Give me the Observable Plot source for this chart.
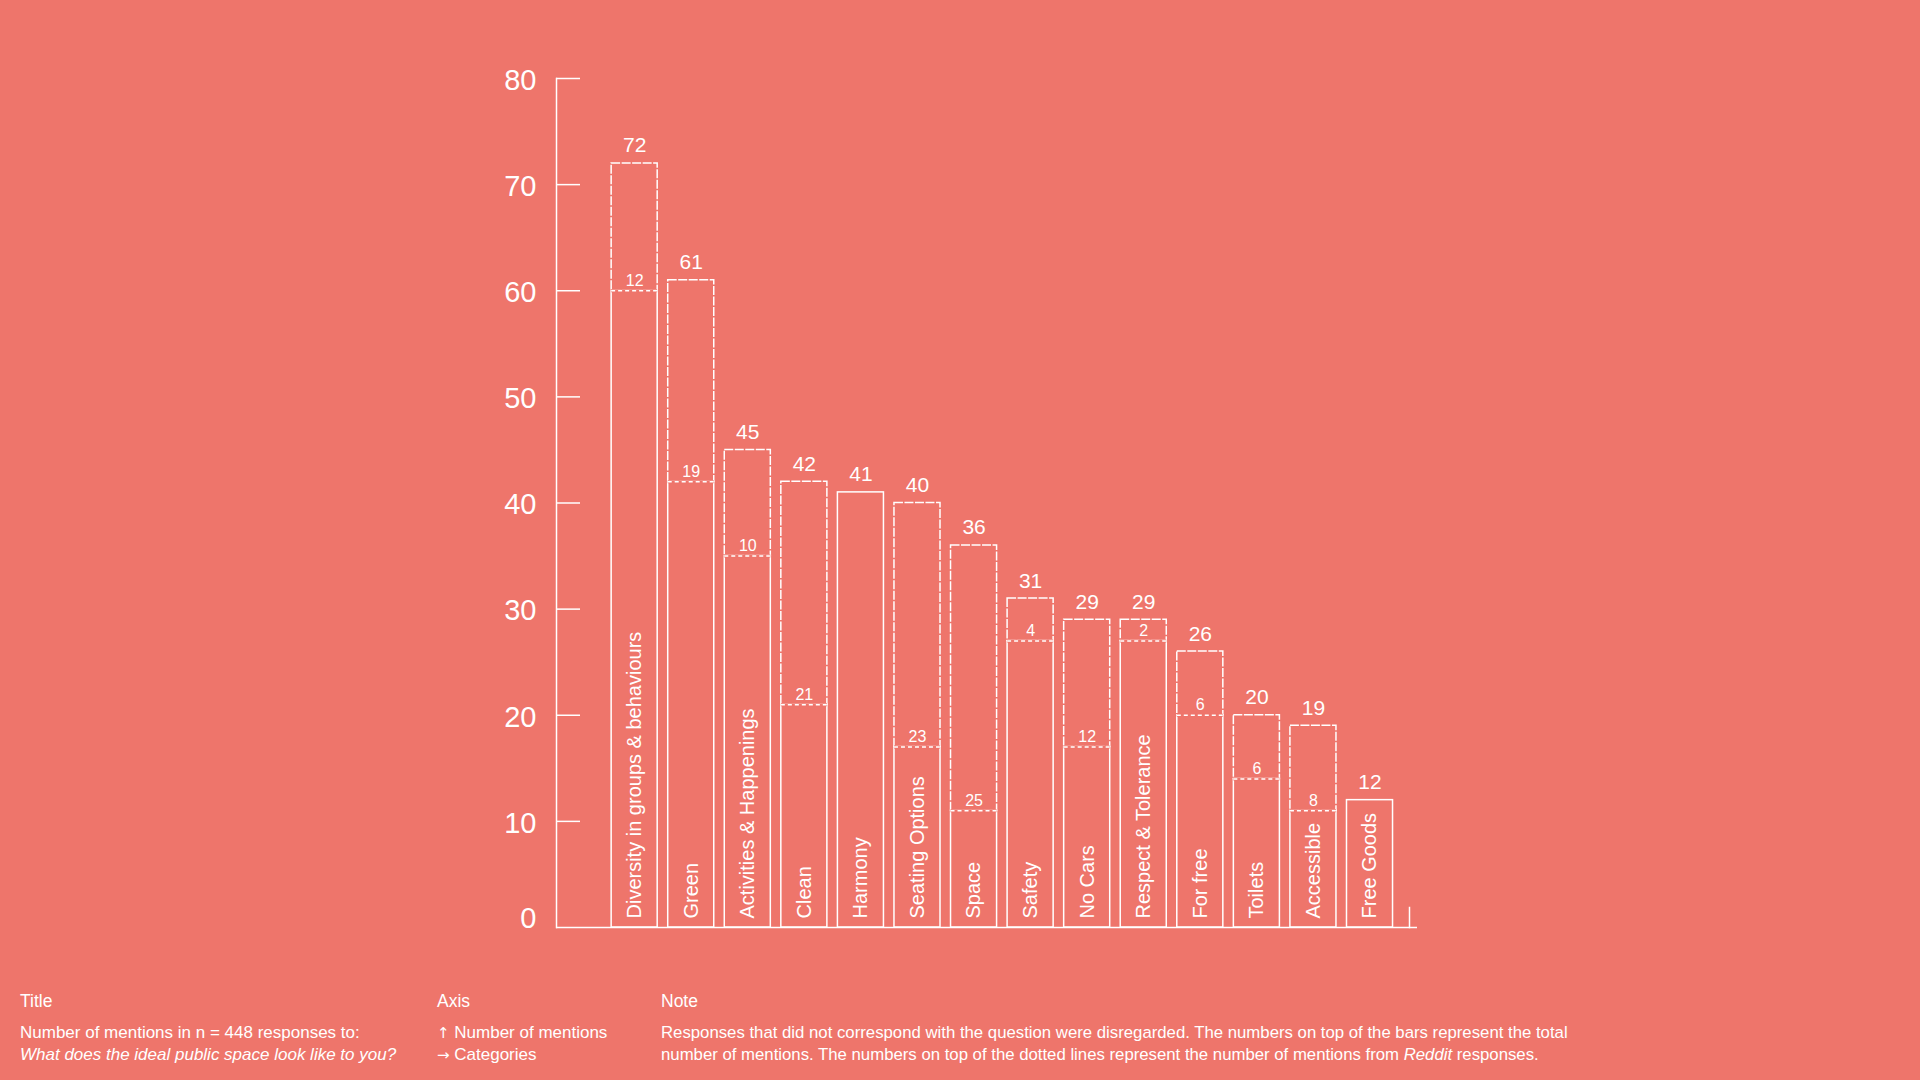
<!DOCTYPE html>
<html>
<head>
<meta charset="utf-8">
<script src="https://cdn.jsdelivr.net/npm/d3@7"></script>
<script src="https://cdn.jsdelivr.net/npm/@observablehq/plot@0.6"></script>
<style>
  html, body { margin: 0; padding: 0; background: #EE756B; width: 1920px; height: 1080px; overflow: hidden; }
  body { font-family: "Liberation Sans", Arial, sans-serif; color: #fff; position: relative; }
  #chart { position: absolute; left: 0; top: 0; }
  .col { position: absolute; top: 990px; font-size: 17px; line-height: 22px; }
  .col .h { margin-bottom: 10px; font-size: 17.5px; }
  .note { font-size: 16.75px; }
  .arr { font-family: "DejaVu Sans", sans-serif; font-size: 15px; }
</style>
</head>
<body>
<div id="chart"></div>
<div class="col" style="left:20px"><div class="h">Title</div>Number of mentions in n = 448 responses to:<br><i>What does the ideal public space look like to you?</i></div>
<div class="col" style="left:437px"><div class="h">Axis</div><span class="arr">↑</span> Number of mentions<br><span class="arr">→</span> Categories</div>
<div class="col note" style="left:661px"><div class="h">Note</div>Responses that did not correspond with the question were disregarded. The numbers on top of the bars represent the total<br>number of mentions. The numbers on top of the dotted lines represent the number of mentions from <i>Reddit</i> responses.</div>
<script>
const categories = ["Diversity in groups & behaviours","Green","Activities & Happenings","Clean","Harmony","Seating Options","Space","Safety","No Cars","Respect & Tolerance","For free","Toilets","Accessible","Free Goods"];
const totals = [72,61,45,42,41,40,36,31,29,29,26,20,19,12];
const reddit = [12,19,10,21,null,23,25,4,12,2,6,6,8,null];
const yTicks = [10,20,30,40,50,60,70,80];
const yLabels = [10,20,30,40,50,60,70,80];

const W = "#fff";
const BG = "#EE756B";
const data = categories.map((c, i) => ({cat: c, total: totals[i], reddit: reddit[i], base: totals[i] - (reddit[i] ?? 0)}));
const withReddit = data.filter(d => d.reddit != null);

const chart = Plot.plot({
  width: 1920,
  height: 960,
  marginLeft: 556,
  marginRight: 511,
  marginTop: 78,
  marginBottom: 33,
  x: {domain: categories, paddingInner: 0.186, paddingOuter: 0.633, align: 0.77, round: false, axis: null},
  y: {domain: [0, 80], axis: null},
  style: {background: "transparent", color: W, fontFamily: "'Liberation Sans', Arial, sans-serif", overflow: "visible"},
  marks: [
    Plot.frame({anchor: "left", stroke: W, strokeWidth: 1.5}),
    Plot.ruleY([0], {stroke: W, strokeWidth: 1.5, insetRight: -8}),
    Plot.frame({anchor: "right", stroke: W, strokeWidth: 1.5, insetTop: 829}),
    Plot.ruleY(yTicks, {y: d => d, stroke: W, strokeWidth: 1.5, insetRight: 829}),
    Plot.text(yLabels, {y: d => d, text: d => String(d), frameAnchor: "left", textAnchor: "end", dx: -20, dy: 2, fontSize: 29, fill: W}),
    Plot.text([0], {y: d => d, text: d => String(d), frameAnchor: "left", textAnchor: "end", dx: -20, dy: -9, fontSize: 29, fill: W}),
    Plot.barY(data, {x: "cat", y1: 0, y2: "base", fill: "none", stroke: W, strokeWidth: 1.5}),
    Plot.barY(withReddit, {x: "cat", y1: "base", y2: "total", fill: "none", stroke: W, strokeWidth: 1.5, strokeDasharray: "9,1.5"}),
    Plot.tickY(withReddit, {x: "cat", y: "base", stroke: BG, strokeWidth: 3}),
    Plot.tickY(withReddit, {x: "cat", y: "base", stroke: W, strokeWidth: 1.5, strokeDasharray: "4,3"}),
    Plot.text(data, {x: "cat", y: "total", text: d => String(d.total), lineAnchor: "bottom", dy: -11, fontSize: 21, fill: W}),
    Plot.text(withReddit, {x: "cat", y: "base", text: d => String(d.reddit), lineAnchor: "bottom", dy: -5, fontSize: 16, fill: W}),
    Plot.text(data, {x: "cat", y: 0, text: "cat", rotate: -90, textAnchor: "start", dy: -9, fontSize: 20, fill: W})
  ]
});
document.getElementById("chart").appendChild(chart);
</script>
</body>
</html>
